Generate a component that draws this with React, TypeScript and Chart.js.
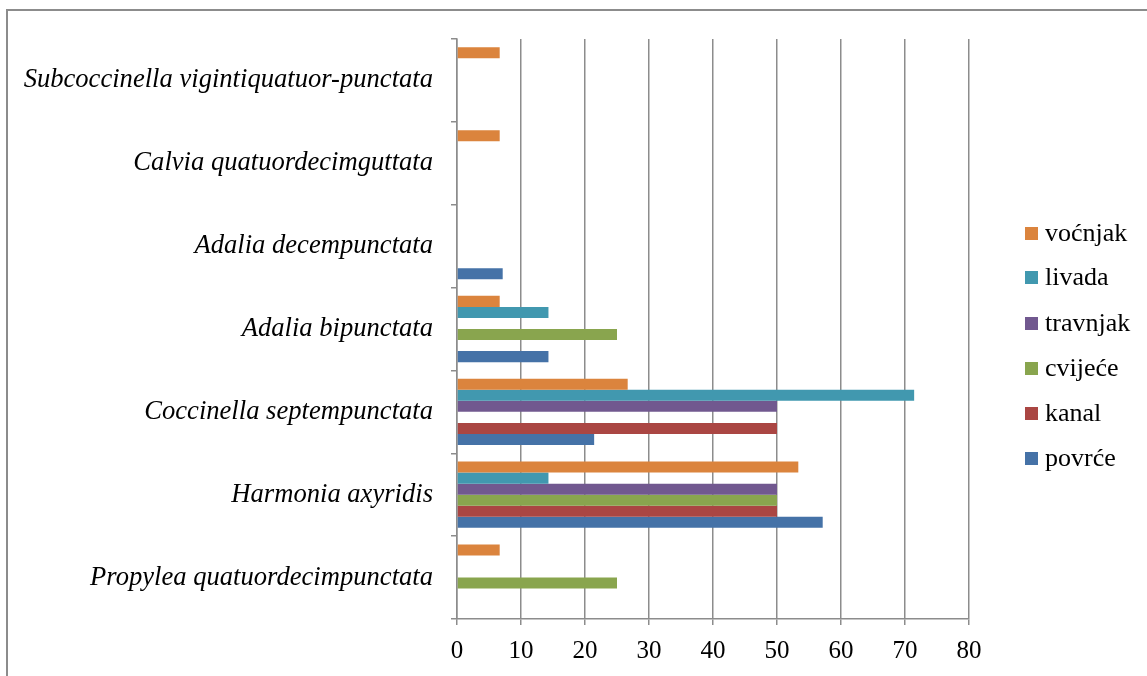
import React, { useEffect, useRef } from 'react';
import { Chart, registerables } from 'chart.js';

Chart.register(...registerables);

const categories = [
  'Subcoccinella vigintiquatuor-punctata',
  'Calvia quatuordecimguttata',
  'Adalia decempunctata',
  'Adalia bipunctata',
  'Coccinella septempunctata',
  'Harmonia axyridis',
  'Propylea quatuordecimpunctata',
];
const seriesNames = ['voćnjak', 'livada', 'travnjak', 'cvijeće', 'kanal', 'povrće'];
const seriesColors = ['#DB843D', '#4198AF', '#71588F', '#89A54E', '#AA4643', '#4572A7'];
const vocnjak = [6.67, 6.67, 0, 6.67, 26.67, 53.33, 6.67];
const livada = [0, 0, 0, 14.29, 71.43, 14.29, 0];
const travnjak = [0, 0, 0, 0, 50, 50, 0];
const cvijece = [0, 0, 0, 25, 0, 50, 25];
const kanal = [0, 0, 0, 0, 50, 50, 0];
const povrce = [0, 0, 7.14, 14.29, 21.43, 57.14, 0];
const xTickValues = [0, 10, 20, 30, 40, 50, 60, 70, 80];

const seriesValues = [vocnjak, livada, travnjak, cvijece, kanal, povrce];
const GRID = '#8c8c8c';
const FONT = "'Liberation Serif', 'Times New Roman', serif";

export default function App() {
  const ref = useRef<HTMLCanvasElement | null>(null);

  useEffect(() => {
    if (!ref.current) return;
    const chart = new Chart(ref.current, {
      type: 'bar',
      data: {
        labels: categories,
        datasets: seriesNames.map((name, i) => ({
          label: name,
          data: seriesValues[i],
          backgroundColor: seriesColors[i],
          borderWidth: 0,
          categoryPercentage: 0.8,
          barPercentage: 1.0,
        })),
      },
      options: {
        indexAxis: 'y',
        animation: false,
        responsive: false,
        maintainAspectRatio: false,
        layout: { padding: { top: 39, right: 178, left: 0, bottom: 0 } },
        plugins: {
          legend: { display: false },
          tooltip: { enabled: false },
        },
        scales: {
          x: {
            min: 0,
            max: 80,
            afterBuildTicks: (scale: any) => {
              scale.ticks = xTickValues.map((v) => ({ value: v }));
            },
            ticks: {
              color: '#000',
              font: { family: FONT, size: 25 },
              padding: 11,
            },
            grid: { color: GRID, lineWidth: 1.5, tickLength: 6, drawTicks: true },
            border: { color: GRID, width: 1.5 },
            afterFit: (scale: any) => {
              scale.height = 57;
            },
          },
          y: {
            offset: true,
            grid: {
              offset: true,
              drawOnChartArea: false,
              drawTicks: true,
              tickLength: 6,
              color: GRID,
              lineWidth: 1.5,
            },
            border: { color: GRID, width: 1.5 },
            ticks: {
              color: '#000',
              font: { family: FONT, size: 26.6, style: 'italic' },
              padding: 18,
            },
            afterFit: (scale: any) => {
              scale.width = 457;
            },
          },
        },
      },
    });
    return () => chart.destroy();
  }, []);

  const legendY = [233, 277, 323, 368, 413, 458];

  return (
    <div style={{ position: 'fixed', left: 0, top: 0, width: 1147, height: 676, background: '#fff', overflow: 'hidden' }}>
      <div
        style={{
          position: 'absolute',
          left: 6,
          top: 9,
          width: 1200,
          height: 800,
          borderTop: `2px solid ${GRID}`,
          borderLeft: `2px solid ${GRID}`,
        }}
      />
      <canvas ref={ref} width={1147} height={676} style={{ position: 'absolute', left: 0, top: 0, display: 'block' }} />
      {seriesNames.map((name, i) => (
        <div
          key={name}
          style={{
            position: 'absolute',
            left: 1025,
            top: legendY[i] - 16,
            height: 32,
            display: 'flex',
            alignItems: 'center',
            fontFamily: FONT,
            fontSize: 26,
            color: '#000',
            whiteSpace: 'nowrap',
          }}
        >
          <span style={{ display: 'inline-block', width: 13, height: 13, background: seriesColors[i], marginRight: 7 }} />
          <span>{name}</span>
        </div>
      ))}
    </div>
  );
}
